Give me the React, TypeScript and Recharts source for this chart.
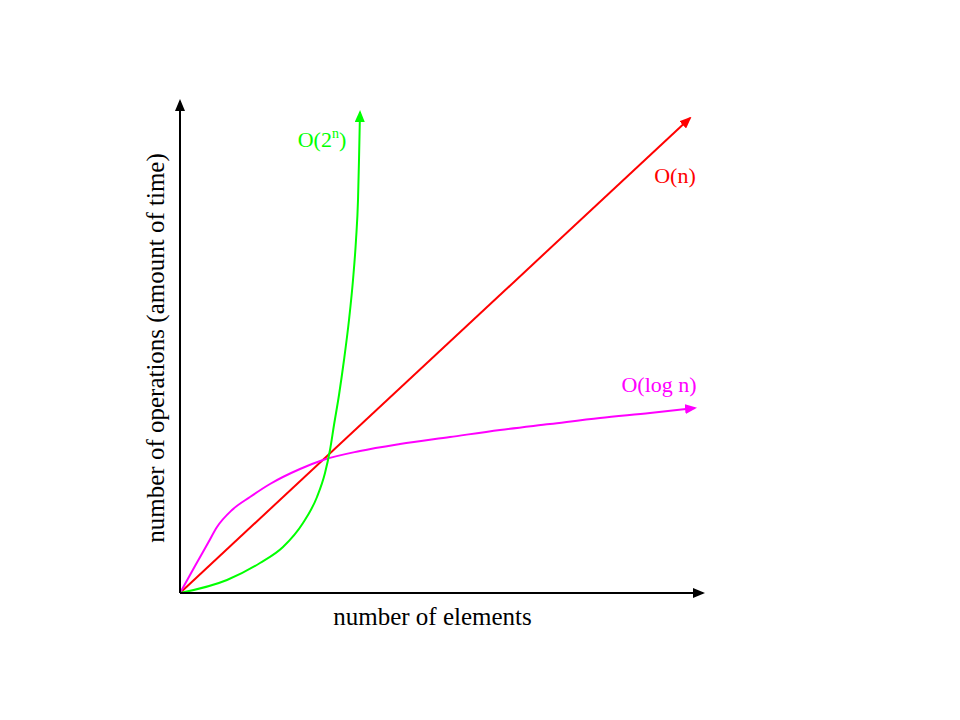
import React from "react";
import { LineChart, Line, XAxis, YAxis, ReferenceDot, Label } from "recharts";

// x / y values in arbitrary "size" units (origin at 0,0)
const linearX = [0, 510];
const linearY = [0, 475];

const logX = [0, 15, 28, 37, 52, 70, 90, 120, 143, 180, 220, 270, 320, 370, 420, 470, 515];
const logY = [0, 27, 50, 66, 83, 96, 109, 124, 133, 142, 149, 156, 163, 169, 175, 180, 185];

const expX = [0, 47, 80, 103, 123, 137, 145, 150, 154, 159, 164, 169, 173, 176, 178, 179, 180];
const expY = [0, 13, 30, 46, 70, 96, 120, 143, 168, 198, 233, 273, 313, 353, 393, 433, 481];

const xLabel = "number of elements";
const yLabel = "number of operations (amount of time)";
const seriesLabels = [
  { name: "O(2^n)", x: 142, y: 446, color: "#00ff00" },
  { name: "O(n)", x: 495, y: 410, color: "#ff0000" },
  { name: "O(log n)", x: 479, y: 201, color: "#ff00ff" },
];

const linearData = linearX.map((x, i) => ({ x, y: linearY[i] }));
const logData = logX.map((x, i) => ({ x, y: logY[i] }));
const expData = expX.map((x, i) => ({ x, y: expY[i] }));

const FONT = "'Liberation Serif', serif";

const Arrow = ({ id, color }: { id: string; color: string }) => (
  <marker
    id={id}
    viewBox="0 0 12 10"
    refX={10}
    refY={5}
    markerWidth={12}
    markerHeight={10}
    markerUnits="userSpaceOnUse"
    orient="auto-start-reverse"
  >
    <path d="M0,0 L12,5 L0,10 z" fill={color} />
  </marker>
);

const makeLabel = (name: string, color: string) => (props: any) => {
  const vb = props.viewBox || {};
  const cx = (vb.x ?? 0) + (vb.width ?? 0) / 2;
  const cy = (vb.y ?? 0) + (vb.height ?? 0) / 2;
  if (name === "O(2^n)") {
    return (
      <text x={cx} y={cy} textAnchor="middle" fill={color} fontSize={22} fontFamily={FONT}>
        <tspan>O(2</tspan>
        <tspan dy={-9} fontSize={14}>n</tspan>
        <tspan dy={9}>)</tspan>
      </text>
    );
  }
  return (
    <text x={cx} y={cy} textAnchor="middle" fill={color} fontSize={22} fontFamily={FONT}>
      {name}
    </text>
  );
};

const XTitle = (props: any) => {
  const vb = props.viewBox || {};
  const x = (vb.x ?? 0) + (vb.width ?? 0) / 2 - 9;
  const y = (vb.y ?? 0) + 32;
  return (
    <text x={x} y={y} textAnchor="middle" fill="#000" fontSize={25} fontFamily={FONT}>
      {xLabel}
    </text>
  );
};

const YTitle = (props: any) => {
  const vb = props.viewBox || {};
  const x = (vb.x ?? 0) + (vb.width ?? 0) - 16;
  const y = (vb.y ?? 0) + (vb.height ?? 0) / 2 + 1;
  return (
    <text
      x={x}
      y={y}
      textAnchor="middle"
      fill="#000"
      fontSize={25}
      fontFamily={FONT}
      transform={`rotate(-90 ${x} ${y})`}
    >
      {yLabel}
    </text>
  );
};

export default function App() {
  return (
    <div style={{ position: "absolute", left: 0, top: 0, background: "#fff" }}>
      <LineChart
        width={960}
        height={720}
        margin={{ top: 101, left: 179, right: 257, bottom: 126 }}
      >
        <defs>
          <Arrow id="arrBlack" color="#000" />
          <Arrow id="arrRed" color="#ff0000" />
          <Arrow id="arrGreen" color="#00ff00" />
          <Arrow id="arrMagenta" color="#ff00ff" />
        </defs>
        <XAxis
          type="number"
          dataKey="x"
          domain={[0, 523]}
          height={1}
          tick={false}
          tickLine={false}
          axisLine={{ stroke: "#000", strokeWidth: 2, markerEnd: "url(#arrBlack)" } as any}
        >
          <Label content={XTitle} />
        </XAxis>
        <YAxis
          type="number"
          dataKey="y"
          domain={[0, 492]}
          width={1}
          tick={false}
          tickLine={false}
          axisLine={{ stroke: "#000", strokeWidth: 2, markerStart: "url(#arrBlack)" } as any}
        >
          <Label content={YTitle} />
        </YAxis>
        <Line
          data={linearData}
          dataKey="y"
          type="linear"
          stroke="#ff0000"
          strokeWidth={2}
          dot={false}
          activeDot={false}
          isAnimationActive={false}
          markerEnd="url(#arrRed)"
        />
        <Line
          data={logData}
          dataKey="y"
          type="monotone"
          stroke="#ff00ff"
          strokeWidth={2}
          dot={false}
          activeDot={false}
          isAnimationActive={false}
          markerEnd="url(#arrMagenta)"
        />
        <Line
          data={expData}
          dataKey="y"
          type="monotone"
          stroke="#00ff00"
          strokeWidth={2}
          dot={false}
          activeDot={false}
          isAnimationActive={false}
          markerEnd="url(#arrGreen)"
        />
        {seriesLabels.map((s) => (
          <ReferenceDot
            key={s.name}
            x={s.x}
            y={s.y}
            r={0}
            fill="none"
            stroke="none"
            ifOverflow="visible"
            label={makeLabel(s.name, s.color)}
          />
        ))}
      </LineChart>
    </div>
  );
}
